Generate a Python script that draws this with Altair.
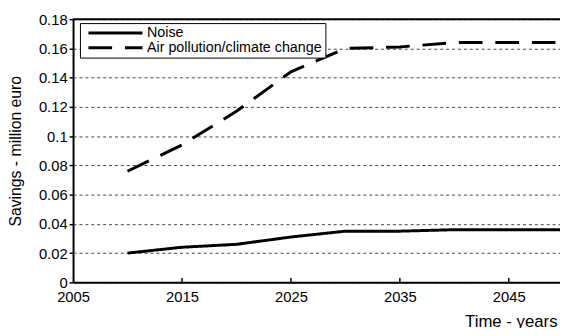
import altair as alt
import pandas as pd

years = [2010, 2015, 2020, 2025, 2030, 2035, 2040, 2045, 2050]
noise = [0.020, 0.024, 0.026, 0.031, 0.035, 0.035, 0.036, 0.036, 0.036]
air = [0.076, 0.094, 0.117, 0.144, 0.160, 0.161, 0.164, 0.164, 0.164]
series = ["Noise", "Air pollution/climate change"]
x_ticks = [2005, 2015, 2025, 2035, 2045]
y_ticks = [0, 0.02, 0.04, 0.06, 0.08, 0.1, 0.12, 0.14, 0.16, 0.18]

rows = []
for y, n, a in zip(years, noise, air):
    rows.append({"year": y, "value": n, "series": series[0]})
    rows.append({"year": y, "value": a, "series": series[1]})
df = pd.DataFrame(rows)

FONT = "Liberation Sans"
W, H = 494, 267
xscale = alt.Scale(domain=[2005, 2049.7], nice=False, zero=False)
yscale = alt.Scale(domain=[0, 0.18], nice=False)

xaxis = alt.Axis(values=x_ticks, format="d", title="Time - years",
                 titleAnchor="end", titleAlign="right", titleX=W - 3, titleY=32,
                 titleFontSize=17, titleFontWeight="normal", titleColor="black",
                 titleFont=FONT, labelFont=FONT,
                 labelFontSize=15, labelColor="black", labelPadding=7,
                 domainColor="black", domainWidth=2, ticks=False, grid=False,
                 labelFlush=False, labelOverlap=False)
yaxis = alt.Axis(values=y_ticks, format="~g", title="Savings - million euro",
                 titleFontSize=16, titleFontWeight="normal", titleColor="black",
                 titleFont=FONT, labelFont=FONT,
                 labelFontSize=15, labelColor="black", labelPadding=2,
                 titlePadding=15,
                 domainColor="black", domainWidth=2,
                 ticks=True, tickSize=4, tickColor="black", tickWidth=1.5,
                 grid=True, gridColor="#444", gridDash=[3, 3], gridWidth=1,
                 labelFlush=False, labelOverlap=False)

lines = alt.Chart(df).mark_line(strokeWidth=3, color="black", clip=True).encode(
    x=alt.X("year:Q", scale=xscale, axis=xaxis, title="Time - years"),
    y=alt.Y("value:Q", scale=yscale, axis=yaxis, title="Savings - million euro"),
    strokeDash=alt.StrokeDash("series:N", scale=alt.Scale(domain=series, range=[[1, 0], [24, 13]]),
                              legend=alt.Legend(title=None, orient="none", legendX=7, legendY=4,
                                                strokeColor="black", padding=3,
                                                symbolType="stroke", symbolSize=3000,
                                                symbolOffset=4,
                                                clipHeight=14,
                                                symbolStrokeWidth=3, symbolStrokeColor="black",
                                                labelFont=FONT, labelFontSize=14.5,
                                                labelLimit=400,
                                                labelColor="black", labelOffset=3, rowPadding=0,
                                                fillColor="white")),
)

top = alt.Chart(pd.DataFrame({"v": [0.18]})).mark_rule(color="black", strokeWidth=2).encode(
    y=alt.Y("v:Q", scale=yscale, axis=yaxis, title="Savings - million euro")
)

tick_df = pd.DataFrame({"t": x_ticks[1:], "y0": [0] * 4, "y1": [0.003] * 4})
xt = alt.Chart(tick_df).mark_rule(color="black", strokeWidth=1.5).encode(
    x=alt.X("t:Q", scale=xscale, axis=xaxis, title="Time - years"),
    y=alt.Y("y0:Q", scale=yscale, axis=yaxis, title="Savings - million euro"), y2="y1:Q"
)

chart = alt.layer(lines, top, xt).properties(
    width=W, height=H,
    autosize=alt.AutoSizeParams(type="none"),
    padding={"left": 66, "top": 9, "right": 0, "bottom": 44},
).configure_view(stroke=None).configure(background="white")

chart.save("out.html", embed_options={"renderer": "svg", "actions": False})
